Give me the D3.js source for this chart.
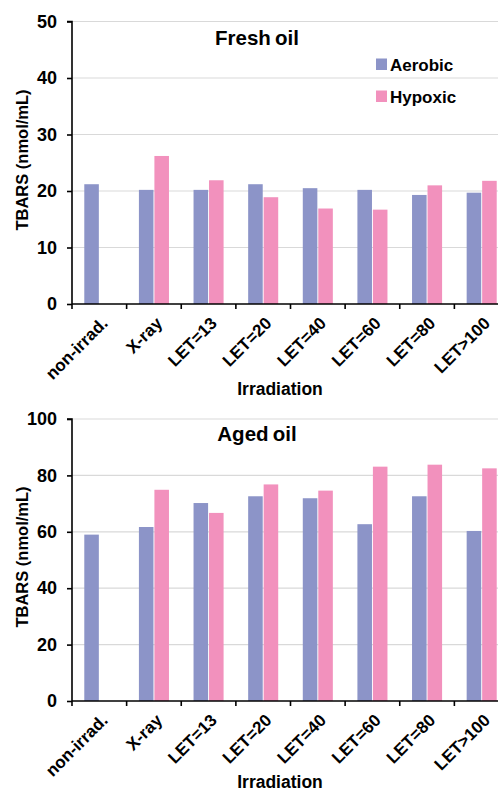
<!DOCTYPE html>
<html><head><meta charset="utf-8">
<script src="https://cdn.jsdelivr.net/npm/d3@7"></script>
<style>
html,body{margin:0;padding:0;background:#fff;overflow:hidden}
svg text{font-family:"Liberation Sans",Arial,sans-serif;font-weight:bold;fill:#000}
</style></head>
<body>
<script>
const categories = ["non-irrad.","X-ray","LET=13","LET=20","LET=40","LET=60","LET=80","LET>100"];
const seriesNames = ["Aerobic","Hypoxic"];
const freshAerobic = [21.2,20.2,20.2,21.2,20.5,20.2,19.3,19.7];
const freshHypoxic = [null,26.2,21.9,18.9,16.9,16.7,21.0,21.8];
const agedAerobic = [59.0,61.7,70.2,72.6,71.9,62.7,72.6,60.3];
const agedHypoxic = [null,74.9,66.7,76.8,74.6,83.1,83.8,82.5];
const freshTicks = [0,10,20,30,40,50];
const agedTicks = [0,20,40,60,80,100];
const colors = ["#8c94c8","#f291bd"];

const W = 498, H = 793;
const svg = d3.select("body").append("svg").attr("width",W).attr("height",H);

function panel(opt){
  const g = svg.append("g");
  const x = d3.scaleBand().domain(categories).range([72,509]).paddingInner(0).paddingOuter(0);
  const y = d3.scaleLinear().domain([0,opt.max]).range([opt.y0,opt.y1]);
  g.selectAll("line.grid").data(opt.ticks.filter(t=>t>0)).enter().append("line")
    .attr("x1",72).attr("x2",W).attr("y1",d=>y(d)).attr("y2",d=>y(d))
    .attr("stroke","#d9d9d9").attr("stroke-width",1.2);
  const bw = x.bandwidth();
  const inner = d3.scaleBand().domain(seriesNames).range([bw*0.225,bw*0.775]).paddingInner(0.06);
  const data = [];
  categories.forEach((c,i)=>{
    [opt.a,opt.h].forEach((arr,k)=>{
      if(arr[i]!=null) data.push({c,s:seriesNames[k],v:arr[i],k});
    });
  });
  g.selectAll("rect.bar").data(data).enter().append("rect")
    .attr("x",d=>x(d.c)+inner(d.s)).attr("width",inner.bandwidth())
    .attr("y",d=>y(d.v)).attr("height",d=>y(0)-y(d.v))
    .attr("fill",d=>colors[d.k]);
  const ya = d3.axisLeft(y).tickValues(opt.ticks).tickSize(5).tickPadding(10);
  const yg = g.append("g").attr("transform","translate(72,0)").call(ya);
  yg.select(".domain").attr("stroke","#000").attr("stroke-width",1.6).attr("d",`M-5,${y(opt.max)}H0V${y(0)}`);
  yg.selectAll(".tick line").attr("stroke","#000").attr("stroke-width",1.6);
  yg.selectAll(".tick text").style("font-size","18px").attr("font-family",null);
  const xaxisY = y(0);
  g.append("line").attr("x1",72).attr("x2",W).attr("y1",xaxisY).attr("y2",xaxisY)
    .attr("stroke","#000").attr("stroke-width",1.6);
  const bounds = categories.map(c=>x(c)).concat([x(categories[categories.length-1])+bw]);
  g.selectAll("line.xt").data(bounds).enter().append("line")
    .attr("x1",d=>d).attr("x2",d=>d).attr("y1",xaxisY).attr("y2",xaxisY+5)
    .attr("stroke","#000").attr("stroke-width",1.6);
  g.selectAll("text.xl").data(categories).enter().append("text")
    .attr("transform",d=>`translate(${x(d)+bw/2+1},${xaxisY+12}) rotate(-45)`)
    .attr("text-anchor","end").attr("dy","0.7em")
    .style("font-size","17px").text(d=>d);
  g.append("text").attr("x",280).attr("y",opt.xTitleY).attr("text-anchor","middle")
    .style("font-size","17.5px").text("Irradiation");
  g.append("text").attr("transform",`translate(28,${opt.yTitleC}) rotate(-90)`)
    .attr("text-anchor","middle").style("font-size","16.5px").text("TBARS (nmol/mL)");
  g.append("text").attr("x",257).attr("y",opt.titleY).attr("text-anchor","middle")
    .style("font-size","20.5px").style("word-spacing","-1.5px").text(opt.title);
  return {x,y};
}

panel({a:freshAerobic,h:freshHypoxic,max:50,ticks:freshTicks,y0:304,y1:21.5,
  title:"Fresh oil",titleY:45,xTitleY:395,yTitleC:160});
panel({a:agedAerobic,h:agedHypoxic,max:100,ticks:agedTicks,y0:701,y1:419,
  title:"Aged oil",titleY:441,xTitleY:788,yTitleC:557});

const lg = svg.append("g");
seriesNames.forEach((s,i)=>{
  const yy = 58.5 + i*32;
  lg.append("rect").attr("x",376).attr("y",yy).attr("width",11).attr("height",11.5).attr("fill",colors[i]);
  lg.append("text").attr("x",390).attr("y",yy+12).style("font-size","17px").text(s);
});
</script>
</body></html>
